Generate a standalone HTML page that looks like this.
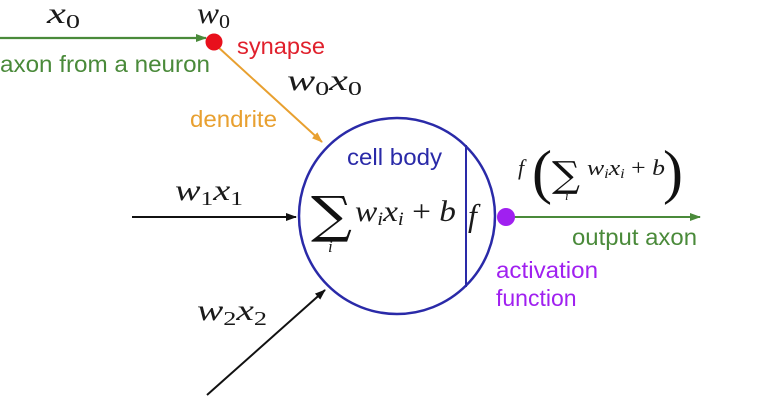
<!DOCTYPE html>
<html><head><meta charset="utf-8"><style>
html,body{margin:0;padding:0;background:#fff;}
svg{display:block;}
.m{font-family:"Liberation Serif",serif;font-style:italic;fill:#1a1a1a;}
.s{font-family:"Liberation Sans",sans-serif;}
</style></head><body>
<svg width="773" height="405" viewBox="0 0 773 405" xmlns="http://www.w3.org/2000/svg">
<defs>
<marker id="ag" markerWidth="11" markerHeight="8" refX="10" refY="4" orient="auto" markerUnits="userSpaceOnUse"><path d="M0,0 L11,4 L0,8z" fill="#4a8a3a"/></marker>
<marker id="ao" markerWidth="11" markerHeight="8" refX="10" refY="4" orient="auto" markerUnits="userSpaceOnUse"><path d="M0,0 L11,4 L0,8z" fill="#e8a030"/></marker>
<marker id="ak" markerWidth="11" markerHeight="8" refX="10" refY="4" orient="auto" markerUnits="userSpaceOnUse"><path d="M0,0 L11,4 L0,8z" fill="#111"/></marker>
</defs>
<line x1="0" y1="38" x2="206" y2="38" stroke="#4a8a3a" stroke-width="2.2" marker-end="url(#ag)"/>
<line x1="218" y1="47" x2="322" y2="142" stroke="#e8a030" stroke-width="2" marker-end="url(#ao)"/>
<circle cx="214" cy="42" r="8.5" fill="#e8101c"/>
<line x1="132" y1="217" x2="296" y2="217" stroke="#111" stroke-width="2" marker-end="url(#ak)"/>
<line x1="207" y1="395" x2="325" y2="290" stroke="#111" stroke-width="2" marker-end="url(#ak)"/>
<circle cx="397" cy="216" r="98" fill="none" stroke="#2a2aa8" stroke-width="2.5"/>
<line x1="466" y1="145" x2="466" y2="287" stroke="#2a2aa8" stroke-width="2"/>
<line x1="506" y1="217" x2="700" y2="217" stroke="#4a8a3a" stroke-width="2" marker-end="url(#ag)"/>
<circle cx="506" cy="217" r="9" fill="#a020f0"/>
<text class="m" x="47" y="23" font-size="30" textLength="33" lengthAdjust="spacingAndGlyphs">x<tspan font-size="20" font-style="normal" dy="5">0</tspan></text>
<text class="m" x="197" y="23" font-size="30" textLength="33" lengthAdjust="spacingAndGlyphs">w<tspan font-size="20" font-style="normal" dy="5">0</tspan></text>
<text class="s" x="237" y="54" font-size="23" fill="#e0202c" textLength="88" lengthAdjust="spacingAndGlyphs">synapse</text>
<text class="s" x="0" y="72" font-size="23" fill="#4a8a3a" textLength="210" lengthAdjust="spacingAndGlyphs">axon from a neuron</text>
<text class="m" x="287" y="90" font-size="30" textLength="75" lengthAdjust="spacingAndGlyphs">w<tspan font-size="20" font-style="normal" dy="5">0</tspan><tspan dy="-5">x</tspan><tspan font-size="20" font-style="normal" dy="5">0</tspan></text>
<text class="s" x="190" y="127" font-size="23" fill="#e8a030" textLength="87" lengthAdjust="spacingAndGlyphs">dendrite</text>
<text class="s" x="347" y="165" font-size="23" fill="#2a2aa8" textLength="95" lengthAdjust="spacingAndGlyphs">cell body</text>
<text class="m" x="175" y="200" font-size="30" textLength="68" lengthAdjust="spacingAndGlyphs">w<tspan font-size="20" font-style="normal" dy="5">1</tspan><tspan dy="-5">x</tspan><tspan font-size="20" font-style="normal" dy="5">1</tspan></text>
<text class="m" x="197" y="320" font-size="30" textLength="70" lengthAdjust="spacingAndGlyphs">w<tspan font-size="20" font-style="normal" dy="5">2</tspan><tspan dy="-5">x</tspan><tspan font-size="20" font-style="normal" dy="5">2</tspan></text>
<text x="311" y="232" font-size="50" font-family="DejaVu Serif,serif" fill="#111" textLength="41" lengthAdjust="spacingAndGlyphs">∑</text>
<text class="m" x="328" y="252" font-size="17">i</text>
<text class="m" x="355" y="221" font-size="30" textLength="101" lengthAdjust="spacingAndGlyphs">w<tspan font-size="19" dy="4">i</tspan><tspan dy="-4">x</tspan><tspan font-size="19" dy="4">i</tspan><tspan dy="-4" font-style="normal"> + </tspan>b</text>
<text class="m" x="468" y="226" font-size="32">f</text>
<text class="m" x="518" y="175" font-size="22">f</text>
<text x="532" y="192" font-size="60" font-family="Liberation Serif,serif" fill="#111">(</text>
<text x="552" y="187" font-size="36" font-family="DejaVu Serif,serif" fill="#111" textLength="28" lengthAdjust="spacingAndGlyphs">∑</text>
<text class="m" x="565" y="200" font-size="13">i</text>
<text class="m" x="587" y="175" font-size="22" textLength="78" lengthAdjust="spacingAndGlyphs">w<tspan font-size="14" dy="3">i</tspan><tspan dy="-3">x</tspan><tspan font-size="14" dy="3">i</tspan><tspan dy="-3" font-style="normal"> + </tspan>b</text>
<text x="663" y="192" font-size="60" font-family="Liberation Serif,serif" fill="#111">)</text>
<text class="s" x="572" y="245" font-size="23" fill="#4a8a3a" textLength="125" lengthAdjust="spacingAndGlyphs">output axon</text>
<text class="s" x="496" y="278" font-size="23" fill="#a020f0" textLength="102" lengthAdjust="spacingAndGlyphs">activation</text>
<text class="s" x="496" y="306" font-size="23" fill="#a020f0">function</text>
</svg>
</body></html>
